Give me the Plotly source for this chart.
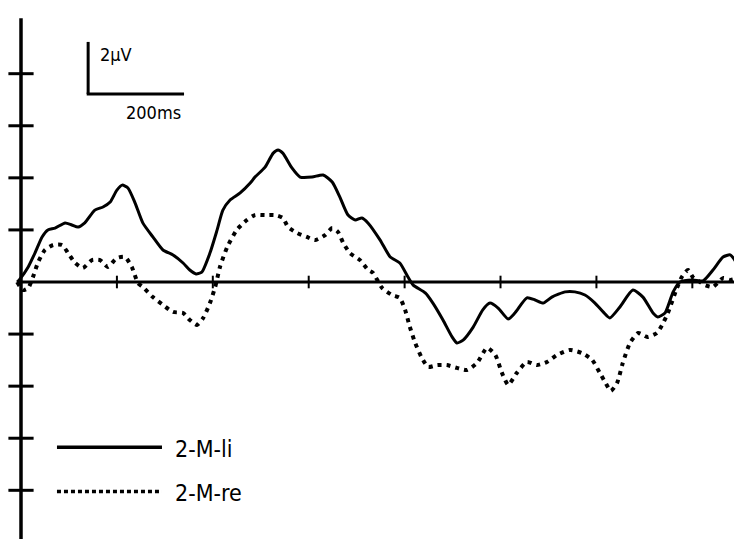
import plotly.graph_objects as go

# ---- data (time in ms, amplitude in µV) ----
t_li = [-8, -2, 15, 29, 44, 56, 71, 92, 106, 119, 133, 154, 171, 186, 200, 211, 223, 238,
        254, 275, 296, 317, 338, 352, 365, 377, 394, 409, 421, 436, 457, 478, 488, 509,
        526, 536, 546, 565, 582, 607, 630, 649, 665, 682, 697, 711, 724, 749, 770, 790,
        807, 818, 843, 859, 880, 899, 909, 922, 943, 963, 978, 995, 1016, 1030, 1055,
        1072, 1089, 1107, 1135, 1155, 1176, 1197, 1214, 1228, 1249, 1276, 1297, 1318,
        1328, 1343, 1360, 1374, 1401, 1422, 1443, 1464, 1479, 1490]
v_li = [0.0, 0.12, 0.58, 1.11, 1.73, 2.0, 2.07, 2.27, 2.19, 2.11, 2.27, 2.76, 2.88, 3.07,
        3.53, 3.72, 3.61, 3.03, 2.27, 1.73, 1.23, 1.04, 0.73, 0.46, 0.31, 0.38, 1.11, 2.0,
        2.76, 3.15, 3.42, 3.80, 4.03, 4.41, 4.95, 5.07, 4.95, 4.38, 4.03, 4.03, 4.11, 3.84,
        3.26, 2.57, 2.38, 2.46, 2.26, 1.61, 0.96, 0.73, 0.19, -0.12, -0.42, -0.81, -1.46,
        -2.11, -2.34, -2.23, -1.73, -1.07, -0.81, -1.0, -1.42, -1.19, -0.61, -0.69, -0.81,
        -0.58, -0.38, -0.38, -0.50, -0.81, -1.15, -1.38, -0.96, -0.31, -0.58, -1.19, -1.34,
        -1.19, -0.38, 0.0, 0.08, 0.04, 0.46, 0.96, 1.04, 0.80]

t_re = [-8, 4, 15, 25, 35, 50, 67, 86, 98, 113, 129, 148, 165, 181, 200, 217, 231, 244,
        254, 275, 296, 317, 338, 352, 367, 380, 394, 405, 415, 430, 450, 471, 488, 509,
        530, 546, 557, 576, 596, 613, 634, 649, 661, 672, 686, 707, 724, 734, 753, 774,
        790, 801, 811, 822, 836, 849, 868, 888, 909, 930, 951, 972, 989, 1003, 1016, 1034,
        1055, 1076, 1097, 1118, 1145, 1170, 1191, 1207, 1218, 1230, 1243, 1255, 1270, 1287,
        1306, 1326, 1337, 1349, 1368, 1378, 1391, 1401, 1416, 1426, 1443, 1464, 1479, 1490]
v_re = [0.0, -0.31, -0.23, 0.19, 0.73, 1.23, 1.42, 1.42, 1.11, 0.73, 0.54, 0.84, 0.84, 0.58,
        0.92, 0.96, 0.58, -0.04, -0.19, -0.58, -0.88, -1.15, -1.19, -1.46, -1.65, -1.38,
        -0.81, -0.19, 0.58, 1.34, 2.0, 2.38, 2.57, 2.57, 2.57, 2.46, 2.11, 1.88, 1.73, 1.61,
        1.80, 2.07, 1.92, 1.50, 1.11, 0.84, 0.46, 0.35, -0.23, -0.50, -0.61, -1.07, -1.73,
        -2.34, -2.92, -3.26, -3.19, -3.19, -3.30, -3.38, -3.11, -2.53, -2.80, -3.49, -3.95,
        -3.49, -3.07, -3.19, -3.07, -2.80, -2.61, -2.73, -2.99, -3.49, -3.84, -4.18, -3.88,
        -3.11, -2.34, -1.96, -2.11, -1.96, -1.65, -1.19, -0.23, 0.19, 0.46, 0.19, 0.0,
        -0.12, -0.19, 0.15, 0.08, 0.12]

x_ticks = [200, 400, 600, 800, 1000, 1200, 1400]
y_ticks = [-8, -6, -4, -2, 2, 4, 6, 8]
series_names = ["2-M-li", "2-M-re"]
scale_labels = ["2µV", "200ms"]
scale_amp = 2      # µV
scale_time = 200   # ms

FONT = "DejaVu Sans Condensed, Liberation Sans, DejaVu Sans, sans-serif"
X_RANGE = [-43.8, 1486.9]
Y_RANGE = [-9.87, 10.83]

fig = go.Figure()

# axes lines
fig.add_shape(type="line", x0=0, x1=0, y0=-11, y1=10.13,
              line=dict(color="black", width=3.5), layer="below")
fig.add_shape(type="line", x0=-8, x1=1500, y0=0, y1=0,
              line=dict(color="black", width=3), layer="below")

# tick marks
fig.add_trace(go.Scatter(x=[0] * len(y_ticks), y=y_ticks, mode="markers",
                         marker=dict(symbol="line-ew", size=18,
                                     line=dict(color="black", width=3)),
                         hoverinfo="skip", showlegend=False))
fig.add_trace(go.Scatter(x=x_ticks, y=[0] * len(x_ticks), mode="markers",
                         marker=dict(symbol="line-ns", size=9,
                                     line=dict(color="black", width=2)),
                         hoverinfo="skip", showlegend=False))

# waveforms
fig.add_trace(go.Scatter(x=t_li, y=v_li, mode="lines", name=series_names[0],
                         line=dict(color="black", width=3, shape="spline", smoothing=0.6),
                         showlegend=False))
fig.add_trace(go.Scatter(x=t_re, y=v_re, mode="lines", name=series_names[1],
                         line=dict(color="black", width=4, dash="4px,5px",
                                   shape="spline", smoothing=0.6),
                         showlegend=False))

# scale bar
sb_x, sb_y = 140, 7.22
fig.add_shape(type="line", x0=sb_x, x1=sb_x, y0=sb_y, y1=sb_y + scale_amp,
              line=dict(color="black", width=3))
fig.add_shape(type="line", x0=sb_x - 3, x1=sb_x + scale_time, y0=sb_y, y1=sb_y,
              line=dict(color="black", width=3))
fig.add_annotation(x=sb_x + 20, y=sb_y + 1.5, text=scale_labels[0], showarrow=False,
                   xanchor="left", yanchor="middle",
                   font=dict(family=FONT, size=18, color="black"))
fig.add_annotation(x=sb_x + 198, y=sb_y - 0.7, text=scale_labels[1], showarrow=False,
                   xanchor="right", yanchor="middle",
                   font=dict(family=FONT, size=18, color="black"))

# custom legend
leg_x0, leg_x1 = 75, 294
leg_y = [-6.35, -8.05]
fig.add_shape(type="line", x0=leg_x0, x1=leg_x1, y0=leg_y[0], y1=leg_y[0],
              line=dict(color="black", width=3.5))
fig.add_shape(type="line", x0=leg_x0, x1=leg_x1, y0=leg_y[1], y1=leg_y[1],
              line=dict(color="black", width=3.5, dash="4px,3px"))
for name, yy in zip(series_names, leg_y):
    fig.add_annotation(x=leg_x1 + 22, y=yy - 0.05, text=name, showarrow=False,
                       xanchor="left", yanchor="middle",
                       font=dict(family=FONT, size=23, color="black"))

fig.update_layout(
    width=734, height=539,
    margin=dict(l=0, r=0, t=0, b=0),
    paper_bgcolor="white", plot_bgcolor="white",
    xaxis=dict(range=X_RANGE, visible=False, fixedrange=True),
    yaxis=dict(range=Y_RANGE, visible=False, fixedrange=True),
    showlegend=False,
)

fig.write_html("out.html",
               config={"displayModeBar": False},
               post_script="document.body.style.margin='0';document.body.style.overflow='hidden';")
